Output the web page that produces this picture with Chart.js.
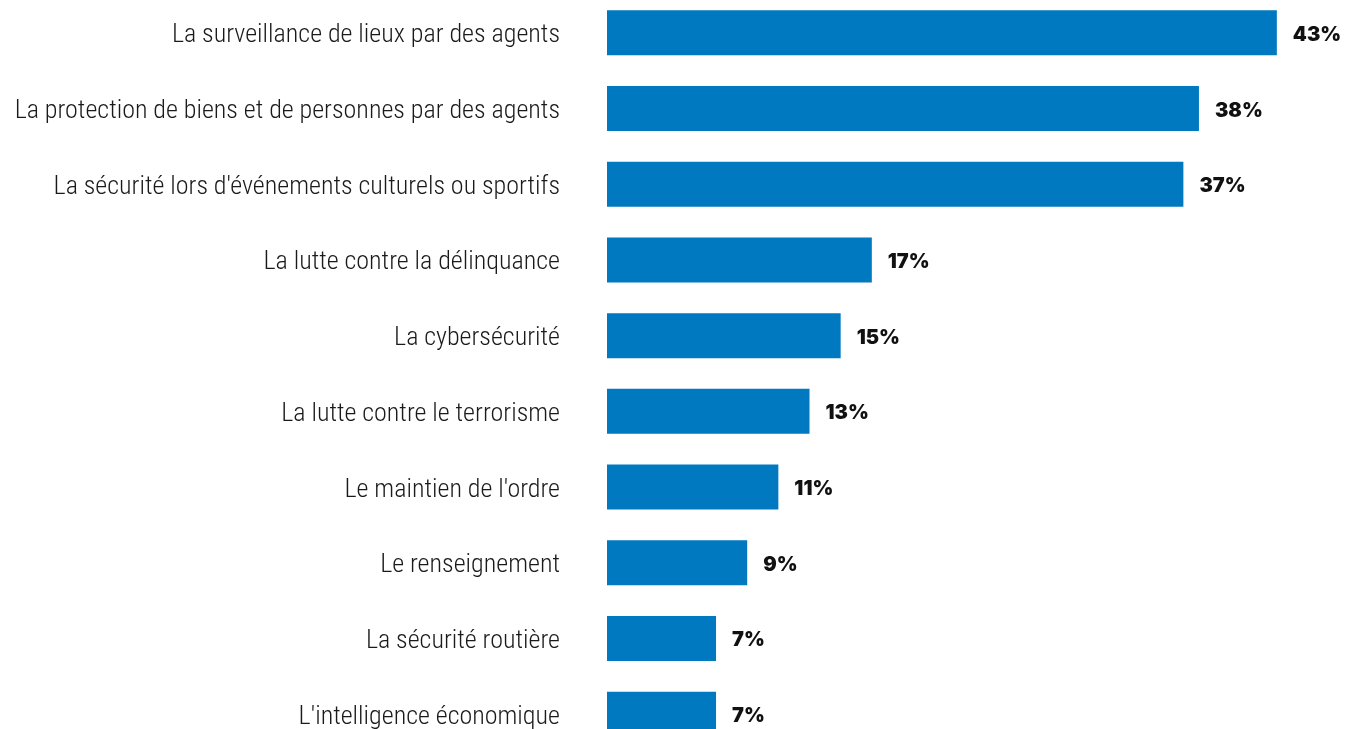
<!DOCTYPE html>
<html>
<head>
<meta charset="utf-8">
<script src="https://cdn.jsdelivr.net/npm/chart.js@4.4.0/dist/chart.umd.min.js"></script>
<style>
  html, body { margin: 0; padding: 0; background: #fff; overflow: hidden; }
  #chart { position: absolute; left: 0; top: -5px; }
</style>
</head>
<body>
<canvas id="chart" width="1350" height="757"></canvas>
<script>
// Données du graphique
const categories = [
  "La surveillance de lieux par des agents",
  "La protection de biens et de personnes par des agents",
  "La sécurité lors d'événements culturels ou sportifs",
  "La lutte contre la délinquance",
  "La cybersécurité",
  "La lutte contre le terrorisme",
  "Le maintien de l'ordre",
  "Le renseignement",
  "La sécurité routière",
  "L'intelligence économique"
];
const values = [43, 38, 37, 17, 15, 13, 11, 9, 7, 7];
const valueLabels = ["43%", "38%", "37%", "17%", "15%", "13%", "11%", "9%", "7%", "7%"];

// étiquettes de valeur à droite des barres
const valueLabelPlugin = {
  id: 'valueLabels',
  afterDatasetsDraw(chart) {
    const ctx = chart.ctx;
    const meta = chart.getDatasetMeta(0);
    ctx.save();
    ctx.font = '900 20px Inter';
    ctx.fillStyle = '#111';
    ctx.textAlign = 'left';
    ctx.textBaseline = 'middle';
    meta.data.forEach((bar, i) => {
      ctx.fillText(valueLabels[i], bar.x + 16, bar.y + 2);
    });
    ctx.restore();
  }
};

new Chart(document.getElementById('chart').getContext('2d'), {
  type: 'bar',
  data: {
    labels: categories,
    datasets: [{
      data: values,
      backgroundColor: '#0079C1',
      categoryPercentage: 1,
      barPercentage: 0.595
    }]
  },
  options: {
    indexAxis: 'y',
    responsive: false,
    animation: false,
    layout: { padding: { left: 0, right: 42, top: 0, bottom: 0 } },
    plugins: {
      legend: { display: false },
      tooltip: { enabled: false }
    },
    scales: {
      x: {
        display: false,
        min: 0,
        max: 45
      },
      y: {
        grid: { display: false, drawTicks: false },
        border: { display: false },
        ticks: {
          color: '#1a1a1a',
          padding: 47,
          labelOffset: 3,
          font: { family: "'Roboto Condensed', 'DejaVu Sans Condensed', sans-serif", size: 26, weight: '300' }
        },
        afterFit: scale => {
          scale.width = 607;
          scale.paddingTop = 0;
          scale.paddingBottom = 0;
        }
      }
    }
  },
  plugins: [valueLabelPlugin]
});
</script>
</body>
</html>
